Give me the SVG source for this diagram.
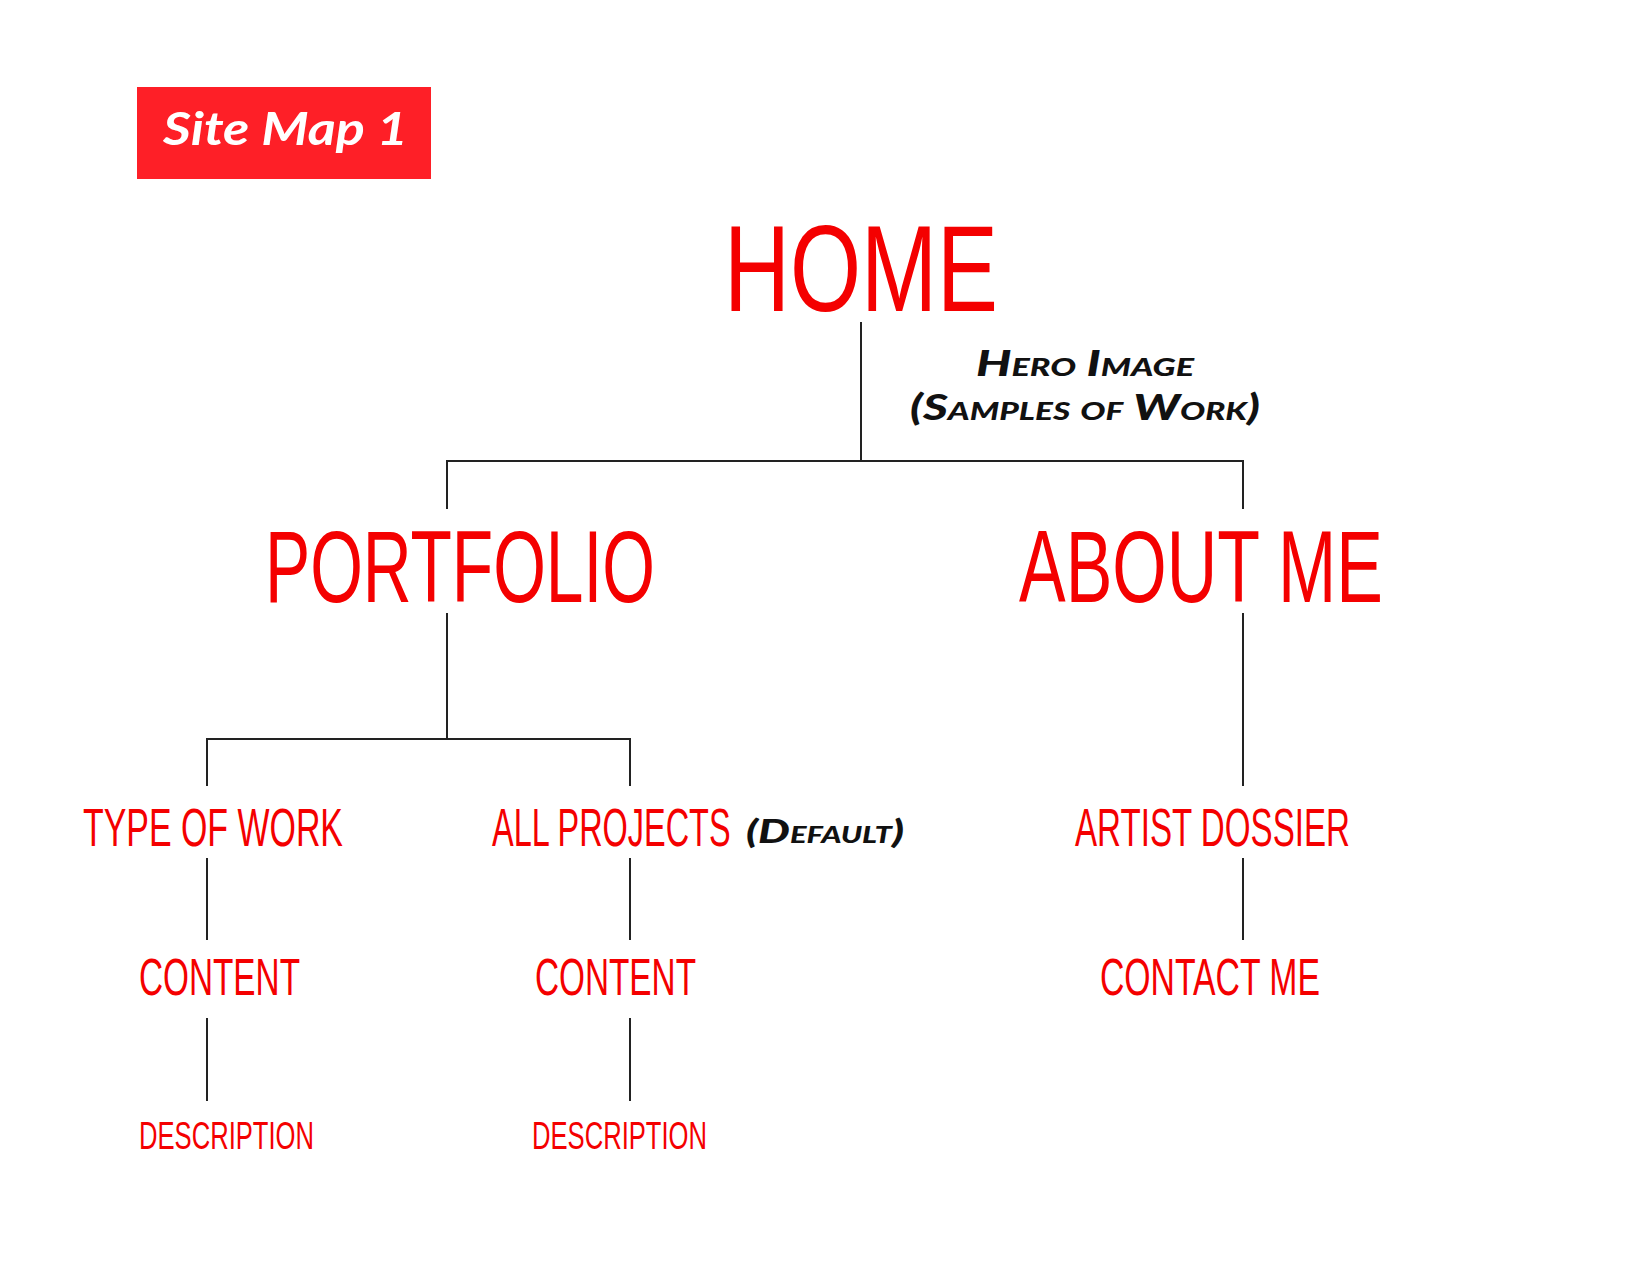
<svg xmlns="http://www.w3.org/2000/svg" width="1650" height="1275" viewBox="0 0 1650 1275">
  <style>
    .node { font-family: "Liberation Sans", Arial, sans-serif; fill: #f40000; }
    .note { font-family: Lato, "DejaVu Sans", sans-serif; font-weight: 900; font-style: italic; font-variant: small-caps; fill: #111; }
    .link { stroke: #222; stroke-width: 2; fill: none; }
  </style>
  <rect width="1650" height="1275" fill="#ffffff"/>

  <g id="title">
    <rect x="137" y="87" width="294" height="92" fill="#fe1f27"/>
    <text x="163" y="145" font-family="Lato, 'Liberation Sans', sans-serif" font-weight="700" font-style="italic" font-size="45" fill="#ffffff" textLength="245" lengthAdjust="spacingAndGlyphs">Site Map 1</text>
  </g>

  <g id="connectors">
    <!-- home to second level -->
    <path class="link" d="M861 322 V461 M447 509 V461 H1243 V509"/>
    <!-- portfolio branch -->
    <path class="link" d="M447 613 V739 M207 786 V739 H630 V786"/>
    <!-- about me branch -->
    <path class="link" d="M1243 613 V786"/>
    <!-- third to fourth level -->
    <path class="link" d="M207 858 V940 M630 858 V940 M1243 858 V940"/>
    <!-- fourth to fifth level -->
    <path class="link" d="M207 1018 V1101 M630 1018 V1101"/>
  </g>

  <g id="home">
    <text class="node" x="724" y="311" font-size="122" textLength="274" lengthAdjust="spacingAndGlyphs">HOME</text>
  </g>
  <g id="home-note">
    <text class="note" x="1085" y="376" font-size="36" text-anchor="middle" textLength="218" lengthAdjust="spacingAndGlyphs">Hero Image</text>
    <text class="note" x="1085" y="420" font-size="36" text-anchor="middle" textLength="350" lengthAdjust="spacingAndGlyphs">(Samples of Work)</text>
  </g>

  <g id="portfolio">
    <text class="node" x="265" y="602" font-size="102" textLength="390" lengthAdjust="spacingAndGlyphs">PORTFOLIO</text>
  </g>
  <g id="about-me">
    <text class="node" x="1019" y="602" font-size="102" textLength="364" lengthAdjust="spacingAndGlyphs">ABOUT ME</text>
  </g>

  <g id="type-of-work">
    <text class="node" x="83" y="846" font-size="54" textLength="260" lengthAdjust="spacingAndGlyphs">TYPE OF WORK</text>
  </g>
  <g id="all-projects">
    <!-- narrowed by a horizontal scale so its box ends before the note -->
    <text class="node" transform="translate(492 846) scale(0.601 1)" font-size="54">ALL PROJECTS</text>
    <text class="note" x="746" y="843" font-size="32" textLength="158" lengthAdjust="spacingAndGlyphs">(Default)</text>
  </g>
  <g id="artist-dossier">
    <text class="node" x="1075" y="846" font-size="54" textLength="275" lengthAdjust="spacingAndGlyphs">ARTIST DOSSIER</text>
  </g>

  <g id="content-1">
    <text class="node" x="139" y="995" font-size="52" textLength="161" lengthAdjust="spacingAndGlyphs">CONTENT</text>
  </g>
  <g id="content-2">
    <text class="node" x="535" y="995" font-size="52" textLength="161" lengthAdjust="spacingAndGlyphs">CONTENT</text>
  </g>
  <g id="contact-me">
    <text class="node" x="1100" y="995" font-size="52" textLength="220" lengthAdjust="spacingAndGlyphs">CONTACT ME</text>
  </g>

  <g id="description-1">
    <text class="node" x="139" y="1149" font-size="38" textLength="175" lengthAdjust="spacingAndGlyphs">DESCRIPTION</text>
  </g>
  <g id="description-2">
    <text class="node" x="532" y="1149" font-size="38" textLength="175" lengthAdjust="spacingAndGlyphs">DESCRIPTION</text>
  </g>
</svg>
